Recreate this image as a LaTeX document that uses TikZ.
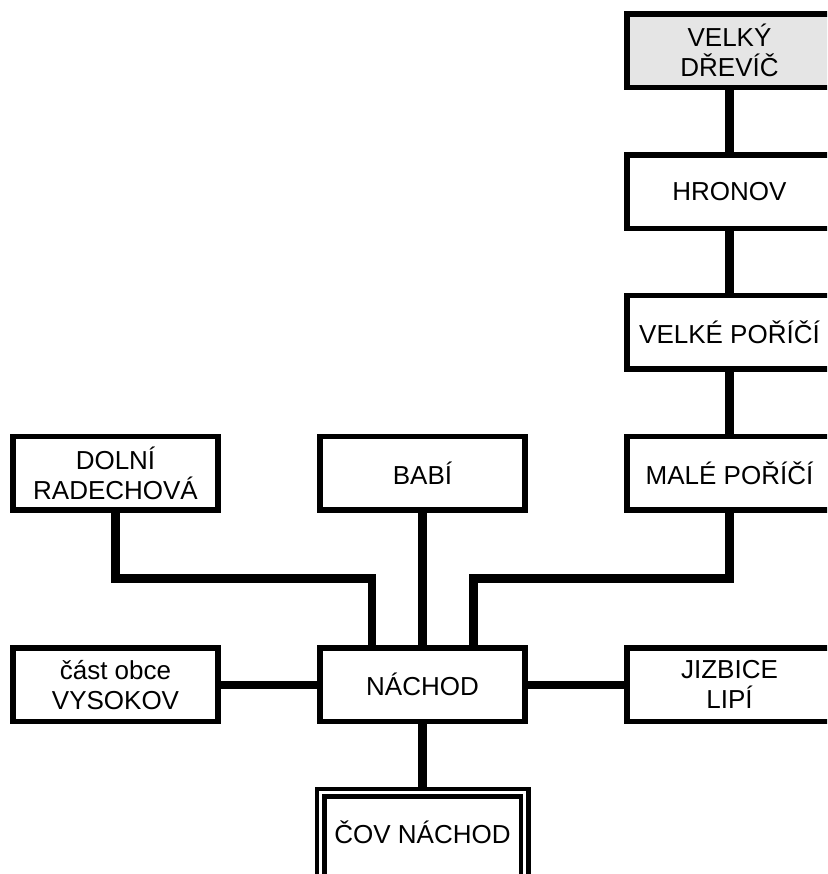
\documentclass[tikz,border=0pt]{standalone}
\usepackage{fontspec}
\setmainfont{Liberation Sans}
\usepackage{tikz}
\usetikzlibrary{calc}
\tikzstyle{place} = [rectangle, minimum width=205pt, minimum height=73.5pt, text centered, align=center, draw=black, line width=5.5pt, fill=white, font=\fontsize{26}{30}\selectfont]
\tikzstyle{plant} = [place, minimum width=204pt, minimum height=90pt, line width=4.5pt, double, double distance=3pt, outer sep=6pt, text depth=10pt]
\tikzstyle{link} = [line width=8.5pt]

\begin{document}
\begin{tikzpicture}[x=1pt, y=1pt, node distance=140.8pt]

\useasboundingbox (0,0) rectangle (827,-874);
\clip (0,0) rectangle (827,-874);

% Nodes
\node (drevic) [place, fill=gray!20] at (729.5,-50.75) {VELKÝ\\DŘEVÍČ};
\node (hronov) [place, below of=drevic] {HRONOV};
\node (velke) [place, below of=hronov] {VELKÉ POŘÍČÍ};
\node (male) [place, below of=velke] {MALÉ POŘÍČÍ};
\node (babi) [place, left of=male, xshift=-166.2pt] {BABÍ};
\node (dolni) [place, left of=babi, xshift=-166.2pt] {DOLNÍ\\RADECHOVÁ};

\node (nachod) [place, below of=babi, yshift=-70.8pt] {NÁCHOD};
\node (vysokov) [place, left of=nachod, xshift=-166.2pt] {část obce\\VYSOKOV};
\node (jizbice) [place, right of=nachod, xshift=166.2pt] {JIZBICE\\LIPÍ};
\node (cov) [plant, below of=nachod, yshift=-12pt] {ČOV NÁCHOD};

% Joints
\coordinate (ljoin) at (372,-578.5);
\coordinate (rjoin) at (473.5,-578.5);

% Links
\draw [link] (drevic) -- (hronov);
\draw [link] (hronov) -- (velke);
\draw [link] (velke) -- (male);
\draw [link] (male.south) |- (rjoin) -- (rjoin |- nachod.north);
\draw [link] (dolni.south) |- (ljoin) -- (ljoin |- nachod.north);
\draw [link] (babi) -- (nachod);
\draw [link] (vysokov) -- (nachod);
\draw [link] (nachod) -- (jizbice);
\draw [link] (nachod) -- (cov);

\end{tikzpicture}
\end{document}
